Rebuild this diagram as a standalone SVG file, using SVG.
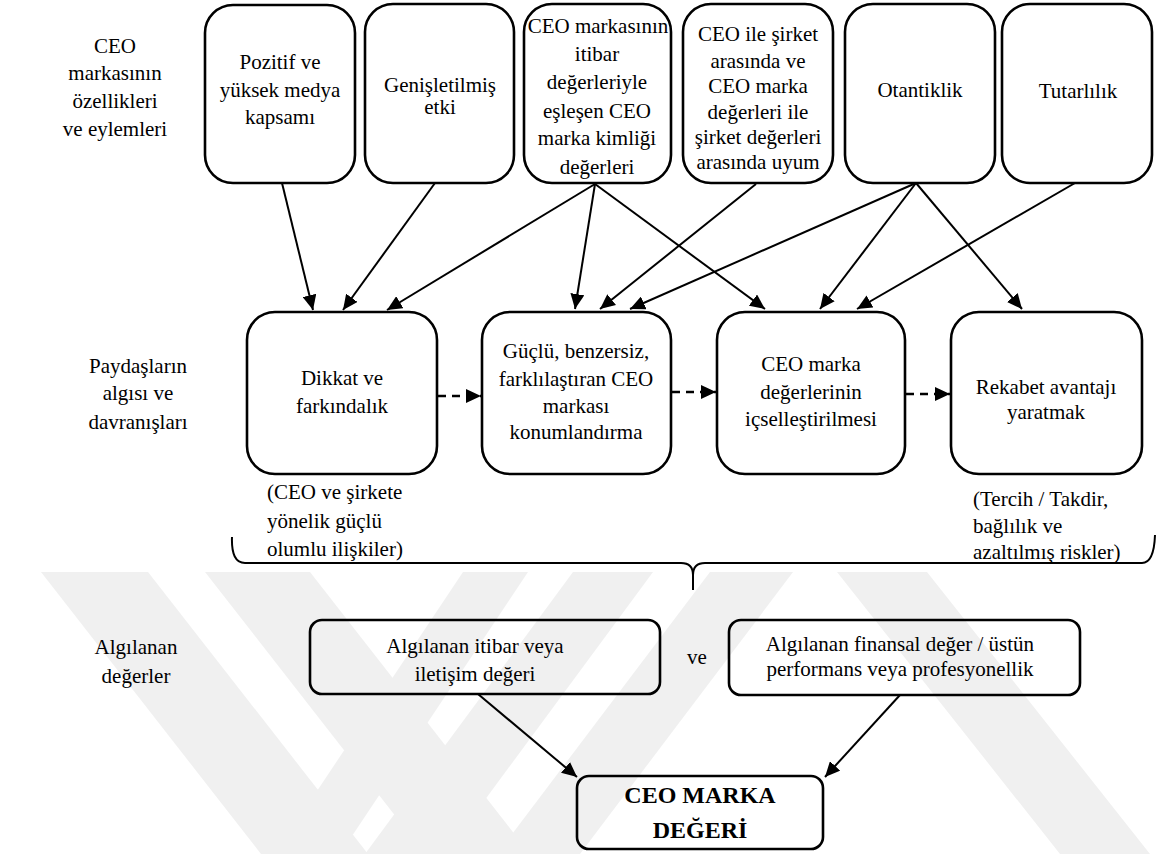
<svg xmlns="http://www.w3.org/2000/svg" width="1157" height="854" viewBox="0 0 1157 854">
<style>
text{font-family:'Liberation Serif','DejaVu Serif',serif;font-size:21px;fill:#000;text-anchor:middle}
.l{text-anchor:start}
.b{font-weight:bold;font-size:24px}
.box{fill:none;stroke:#000;stroke-width:2.6}
.c{fill:none;stroke:#000;stroke-width:2}
.d{fill:none;stroke:#000;stroke-width:2.4;stroke-dasharray:8 6}
.wm{fill:#f0f0f0}
</style>
<defs>
<marker id="ah" markerUnits="userSpaceOnUse" markerWidth="16" markerHeight="14" refX="15" refY="7" orient="auto">
<path d="M0,0 L15,7 L0,14 z" fill="#000"/>
</marker>
</defs>
<rect width="1157" height="854" fill="#fff"/>
<g id="watermark">
<polygon class="wm" points="41,572 148,572 368,854 261,854"/>
<polygon class="wm" points="205,572 310,572 530,854 425,854"/>
<polygon class="wm" points="463,572 528,572 340,854 275,854"/>
<polygon class="wm" points="573,572 653,572 445,854 365,854"/>
<polygon class="wm" points="710,572 793,572 580,854 497,854"/>
<polygon class="wm" points="837,572 927,572 1150,854 1060,854"/>
</g>
<g id="labels">
<text x="115" y="53">CEO</text>
<text x="115" y="80">markasının</text>
<text x="115" y="108">özellikleri</text>
<text x="115" y="136">ve eylemleri</text>
<text x="138" y="373">Paydaşların</text>
<text x="138" y="400">algısı ve</text>
<text x="138" y="429">davranışları</text>
<text x="136" y="654">Algılanan</text>
<text x="136" y="683">değerler</text>
<text x="697" y="664">ve</text>
</g>
<g id="n1">
<rect class="box" x="205" y="5" width="150" height="178" rx="28"/>
<text x="280" y="69">Pozitif ve</text>
<text x="280" y="97">yüksek medya</text>
<text x="280" y="124">kapsamı</text>
</g>
<g id="n2">
<rect class="box" x="365" y="4" width="149" height="179" rx="28"/>
<text x="440" y="92">Genişletilmiş</text>
<text x="440" y="114">etki</text>
</g>
<g id="n3">
<rect class="box" x="524" y="4" width="147" height="179" rx="28"/>
<text x="598" y="33">CEO markasının</text>
<text x="597" y="61">itibar</text>
<text x="597" y="89">değerleriyle</text>
<text x="597" y="118">eşleşen CEO</text>
<text x="597" y="145">marka kimliği</text>
<text x="597" y="174">değerleri</text>
</g>
<g id="n4">
<rect class="box" x="683" y="4" width="150" height="179" rx="28"/>
<text x="758" y="41">CEO ile şirket</text>
<text x="758" y="68">arasında ve</text>
<text x="758" y="93">CEO marka</text>
<text x="758" y="119">değerleri ile</text>
<text x="758" y="144">şirket değerleri</text>
<text x="758" y="169">arasında uyum</text>
</g>
<g id="n5">
<rect class="box" x="845" y="4" width="150" height="179" rx="28"/>
<text x="920" y="97">Otantiklik</text>
</g>
<g id="n6">
<rect class="box" x="1002" y="4" width="150" height="179" rx="28"/>
<text x="1078" y="98">Tutarlılık</text>
</g>
<g id="m1">
<rect class="box" x="247" y="312" width="190" height="162" rx="28"/>
<text x="342" y="385">Dikkat ve</text>
<text x="342" y="413">farkındalık</text>
</g>
<g id="m2">
<rect class="box" x="482" y="312" width="189" height="162" rx="28"/>
<text x="576" y="358">Güçlü, benzersiz,</text>
<text x="576" y="386">farklılaştıran CEO</text>
<text x="576" y="413">markası</text>
<text x="576" y="439">konumlandırma</text>
</g>
<g id="m3">
<rect class="box" x="717" y="312" width="188" height="162" rx="28"/>
<text x="811" y="371">CEO marka</text>
<text x="811" y="399">değerlerinin</text>
<text x="811" y="426">içselleştirilmesi</text>
</g>
<g id="m4">
<rect class="box" x="951" y="312" width="191" height="162" rx="28"/>
<text x="1046" y="394">Rekabet avantajı</text>
<text x="1046" y="419">yaratmak</text>
</g>
<g id="notes">
<text class="l" x="267" y="499">(CEO  ve şirkete</text>
<text class="l" x="267" y="528">yönelik güçlü</text>
<text class="l" x="267" y="556">olumlu ilişkiler)</text>
<text class="l" x="973" y="506">(Tercih / Takdir,</text>
<text class="l" x="973" y="533">bağlılık ve</text>
<text class="l" x="973" y="559">azaltılmış riskler)</text>
</g>
<g id="brace">
<path class="c" d="M232,537 Q231,563 245,563 L681,563 Q693,563 693,575 L693,590 M693,575 Q693,563 705,563 L1142,563 Q1154,563 1155,535"/>
</g>
<g id="b1">
<rect class="box" x="310" y="620" width="350" height="74" rx="12"/>
<text x="475" y="653">Algılanan itibar veya</text>
<text x="475" y="681">iletişim değeri</text>
</g>
<g id="b2">
<rect class="box" x="729" y="620" width="351" height="75" rx="12"/>
<text x="900" y="651">Algılanan finansal değer / üstün</text>
<text x="900" y="676">performans veya profesyonellik</text>
</g>
<g id="final">
<rect class="box" x="577" y="776" width="246" height="73" rx="12"/>
<text class="b" x="700" y="803">CEO MARKA</text>
<text class="b" x="700" y="838">DEĞERİ</text>
</g>
<g id="connectors">
<line class="c" x1="282" y1="183" x2="313" y2="310" marker-end="url(#ah)"/>
<line class="c" x1="435" y1="183" x2="343" y2="310" marker-end="url(#ah)"/>
<line class="c" x1="595" y1="184" x2="387" y2="310" marker-end="url(#ah)"/>
<line class="c" x1="595" y1="184" x2="575" y2="309" marker-end="url(#ah)"/>
<line class="c" x1="595" y1="184" x2="765" y2="309" marker-end="url(#ah)"/>
<line class="c" x1="756" y1="184" x2="600" y2="309" marker-end="url(#ah)"/>
<line class="c" x1="916" y1="183" x2="630" y2="309" marker-end="url(#ah)"/>
<line class="c" x1="916" y1="183" x2="820" y2="309" marker-end="url(#ah)"/>
<line class="c" x1="916" y1="183" x2="1022" y2="309" marker-end="url(#ah)"/>
<line class="c" x1="1075" y1="183" x2="857" y2="309" marker-end="url(#ah)"/>
<line class="d" x1="438" y1="396" x2="481" y2="396" marker-end="url(#ah)"/>
<line class="d" x1="672" y1="392" x2="716" y2="392" marker-end="url(#ah)"/>
<line class="d" x1="906" y1="394" x2="950" y2="394" marker-end="url(#ah)"/>
<line class="c" x1="478" y1="694" x2="577" y2="777" marker-end="url(#ah)"/>
<line class="c" x1="900" y1="695" x2="825" y2="777" marker-end="url(#ah)"/>
</g>
</svg>
